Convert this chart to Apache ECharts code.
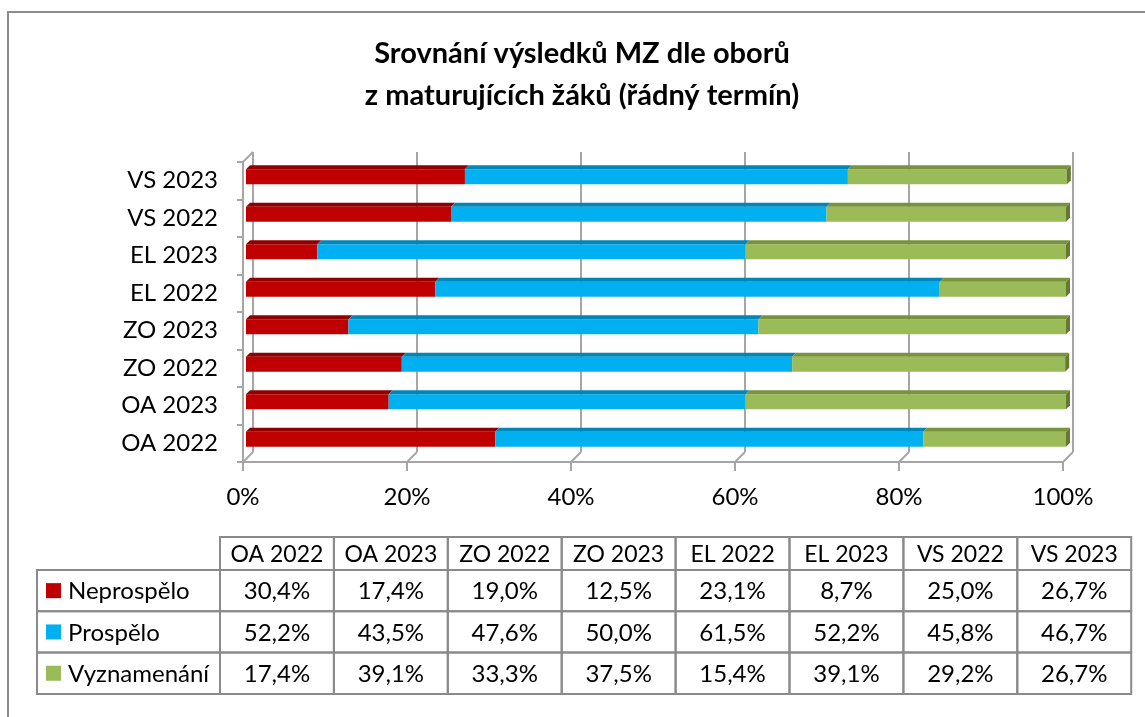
<!DOCTYPE html>
<html>
<head>
<meta charset="utf-8">
<title>Srovnání výsledků MZ dle oborů</title>
<script src="https://cdn.jsdelivr.net/npm/echarts@6/dist/echarts.min.js"></script>
<style>
    html, body { margin: 0; padding: 0; background: #fff; }
    #chart { width: 1145px; height: 717px; }
</style>
</head>
<body>
<div id="chart"></div>
<script type="text/javascript">
    // data
    var categories = ['OA 2022', 'OA 2023', 'ZO 2022', 'ZO 2023', 'EL 2022', 'EL 2023', 'VS 2022', 'VS 2023'];
    var seriesNames = ['Neprospělo', 'Prospělo', 'Vyznamenání'];
    var neprospelo = [30.4, 17.4, 19.0, 12.5, 23.1, 8.7, 25.0, 26.7];
    var prospelo = [52.2, 43.5, 47.6, 50.0, 61.5, 52.2, 45.8, 46.7];
    var vyznamenani = [17.4, 39.1, 33.3, 37.5, 15.4, 39.1, 29.2, 26.7];
    var xTicks = [0, 20, 40, 60, 80, 100];

    var values = [neprospelo, prospelo, vyznamenani];
    var frontColors = ['#C00000', '#00B0F0', '#9BBB59'];
    var topColors = ['#900000', '#0086B8', '#77933C'];
    var sideColors = ['#7a0000', '#00709a', '#637a30'];
    var axisGray = '#a6a6a6';
    var font = 'Lato, "Noto Sans", sans-serif';

    var myChart = echarts.init(document.getElementById('chart'));

    // 3D bar segment: front face + top face (+ right face on last segment)
    function barItem(s) {
        return function (params, api) {
            var ci = api.value(0);
            var p0 = api.coord([api.value(1), ci]);
            var p1 = api.coord([api.value(2), ci]);
            var h = 15, d = 4;
            var cy = p0[1] - 4;
            var l = p0[0] + 3, r = p1[0] + 3, t = cy - h / 2, b = cy + h / 2;
            var children = [
                {type: 'rect', shape: {x: l, y: t, width: r - l, height: h}, style: {fill: frontColors[s]}},
                {type: 'polygon', shape: {points: [[l, t], [r, t], [r + d, t - d], [l + d, t - d]]}, style: {fill: topColors[s]}}
            ];
            if (s === values.length - 1) {
                children.push({type: 'polygon', shape: {points: [[r, t], [r + d, t - d], [r + d, b - d], [r, b]]}, style: {fill: sideColors[s]}});
            }
            return {type: 'group', children: children};
        };
    }

    var series = [];
    // frame diagonals between front and back planes
    series.push({
        type: 'custom',
        xAxisIndex: 1,
        yAxisIndex: 1,
        silent: true,
        z: 1,
        data: xTicks.map(function (v) { return [v, 0]; }),
        encode: {x: 0, y: 1},
        renderItem: function (params, api) {
            var cs = params.coordSys;
            var p = api.coord([api.value(0), 0]);
            var bottom = cs.y + cs.height;
            var children = [{type: 'line', shape: {x1: p[0], y1: bottom, x2: p[0] + 10, y2: bottom - 10}, style: {stroke: axisGray, lineWidth: 2}}];
            if (params.dataIndex === 0) {
                children.push({type: 'line', shape: {x1: cs.x, y1: cs.y, x2: cs.x + 10, y2: cs.y - 10}, style: {stroke: axisGray, lineWidth: 2}});
            }
            return {type: 'group', children: children};
        }
    });

    for (var s = 0; s < values.length; s++) {
        var data = [];
        for (var i = 0; i < categories.length; i++) {
            var start = 0;
            for (var k = 0; k < s; k++) start += values[k][i];
            data.push([i, start, start + values[s][i]]);
        }
        series.push({
            name: seriesNames[s],
            type: 'custom',
            xAxisIndex: 1,
            yAxisIndex: 1,
            z: 5,
            data: data,
            encode: {y: 0, x: [1, 2]},
            renderItem: barItem(s)
        });
    }

    // table below the chart
    function fmt(v) { return v.toFixed(1).replace('.', ',') + '%'; }
    var graphics = [];
    var tblLeft = 37, colStart = 220, colW = 113.9, headTop = 537, headH = 33, rowH = 41.3;
    var cellStroke = '#8a8a8a';
    var tf = 24;
    graphics.push({type: 'polyline', shape: {points: [[8, 717], [8, 12], [1145, 12]]}, style: {stroke: '#8c8c8c', lineWidth: 2, fill: null}});
    for (var c = 0; c < categories.length; c++) {
        var cx = colStart + c * colW;
        graphics.push({type: 'rect', shape: {x: cx, y: headTop, width: colW, height: headH}, style: {stroke: cellStroke, lineWidth: 2, fill: null}});
        graphics.push({type: 'text', x: cx + colW / 2, y: headTop + headH / 2 + 1, style: {text: categories[c], fontSize: 23, fontFamily: font, fill: '#000', align: 'center', verticalAlign: 'middle'}});
    }
    for (var r = 0; r < values.length; r++) {
        var ry = headTop + headH + r * rowH;
        graphics.push({type: 'rect', shape: {x: tblLeft, y: ry, width: colStart - tblLeft, height: rowH}, style: {stroke: cellStroke, lineWidth: 2, fill: null}});
        graphics.push({type: 'rect', shape: {x: 46, y: ry + rowH / 2 - 7.5, width: 15, height: 15}, style: {fill: frontColors[r]}});
        graphics.push({type: 'text', x: 68, y: ry + rowH / 2 + 1, style: {text: seriesNames[r], fontSize: tf, fontFamily: font, fill: '#000', align: 'left', verticalAlign: 'middle'}});
        for (var c = 0; c < categories.length; c++) {
            var cx = colStart + c * colW;
            graphics.push({type: 'rect', shape: {x: cx, y: ry, width: colW, height: rowH}, style: {stroke: cellStroke, lineWidth: 2, fill: null}});
            graphics.push({type: 'text', x: cx + colW / 2, y: ry + rowH / 2 + 1, style: {text: fmt(values[r][c]), fontSize: tf, fontFamily: font, fill: '#000', align: 'center', verticalAlign: 'middle'}});
        }
    }

    var option = {
        backgroundColor: '#fff',
        animation: false,
        title: {
            text: 'Srovnání výsledků MZ dle oborů\nz maturujících žáků (řádný termín)',
            left: 577,
            textAlign: 'center',
            top: 28,
            textStyle: {fontFamily: font, fontWeight: 'bold', fontSize: 29, lineHeight: 42, color: '#000'}
        },
        grid: [
            {left: 253, top: 152, width: 820, height: 300},
            {left: 243, top: 162, width: 820, height: 300}
        ],
        xAxis: [{
            gridIndex: 0, type: 'value', min: 0, max: 100, interval: 20,
            axisLine: {show: false}, axisTick: {show: false}, axisLabel: {show: false},
            splitLine: {show: true, lineStyle: {color: axisGray, width: 2}}
        }, {
            gridIndex: 1, type: 'value', min: 0, max: 100, interval: 20,
            axisLine: {show: true, lineStyle: {color: axisGray, width: 2}},
            axisTick: {show: true, length: 9, lineStyle: {color: axisGray, width: 2}},
            axisLabel: {formatter: '{value}%', fontSize: tf, fontFamily: font, color: '#000', margin: 23},
            splitLine: {show: false}
        }],
        yAxis: [{
            gridIndex: 0, type: 'category', data: categories, show: false
        }, {
            gridIndex: 1, type: 'category', data: categories,
            axisLine: {show: true, lineStyle: {color: axisGray, width: 2}},
            axisTick: {show: true, length: 6, lineStyle: {color: axisGray, width: 2}},
            axisLabel: {fontSize: tf, fontFamily: font, color: '#000', margin: 25},
            splitLine: {show: false}
        }],
        series: series,
        graphic: graphics
    };

    myChart.setOption(option);
</script>
</body>
</html>
